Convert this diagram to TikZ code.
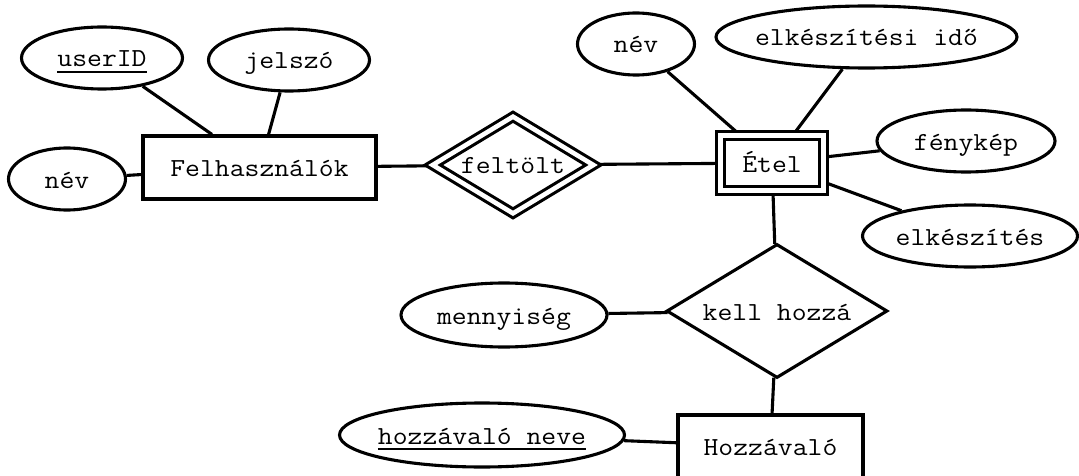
\documentclass[tikz,border=0pt]{standalone}
\usepackage{fontspec}
\newfontfamily\cour{Latin Modern Mono}[FakeStretch=1.11]
\usetikzlibrary{shapes.geometric,backgrounds}
\newcommand\keyul[1]{\setbox0\hbox{#1}\rlap{\copy0}\rule[-6.2pt]{\wd0}{2.5pt}}
\newcommand\ztxt[1]{\makebox[0pt][c]{#1}}
\begin{document}
\begin{tikzpicture}[x=1pt,y=-1pt,
  base/.style={draw=black, line width=3.1pt, inner sep=0pt, text height=18pt, text depth=0pt,
    font=\cour\fontsize{26}{30}\selectfont},
  entity/.style={base, rectangle},
  weak/.style={base, rectangle, double=white, double distance=4.6pt},
  attr/.style={base, ellipse},
  rel/.style={base, diamond, aspect=1.65},
  wrel/.style={base, diamond, aspect=1.65, double=white, double distance=4.6pt},
  conn/.style={draw=black, line width=3.1pt}
]
\useasboundingbox (0,0) rectangle (1079,476);

% entities
\node[entity, minimum width=233pt, minimum height=63pt] (F) at (259.5,167.5) {Felhasználók};
\node[weak, minimum width=102.5pt, minimum height=54.5pt] (E) at (772,163) {Étel};
\node[entity, minimum width=185pt, minimum height=63pt] (H) at (770.5,446.5) {Hozzávaló};

% relationships
\node[wrel, minimum width=162pt, minimum height=98pt] (R1) at (513,165) {\ztxt{feltölt}};
\node[rel, minimum width=221pt, minimum height=134pt] (R2) at (777,311) {\ztxt{kell hozzá}};

% attributes
\node[attr, minimum width=161pt, minimum height=62pt] (uid) at (102,58) {\ztxt{\keyul{userID}}};
\node[attr, minimum width=161pt, minimum height=62pt] (jel) at (289,60) {\ztxt{jelszó}};
\node[attr, minimum width=117pt, minimum height=62pt] (nev1) at (67,179) {\ztxt{név}};
\node[attr, minimum width=117pt, minimum height=62pt] (nev2) at (636,44) {\ztxt{név}};
\node[attr, minimum width=301pt, minimum height=62pt] (eido) at (866.5,37) {\ztxt{elkészítési idő}};
\node[attr, minimum width=178pt, minimum height=62pt] (feny) at (966,141) {\ztxt{fénykép}};
\node[attr, minimum width=215pt, minimum height=62pt] (elk) at (970,236) {\ztxt{elkészítés}};
\node[attr, minimum width=206pt, minimum height=64pt] (menny) at (504,315) {\ztxt{mennyiség}};
\node[attr, minimum width=285pt, minimum height=64pt] (hnev) at (482,435) {\ztxt{\keyul{hozzávaló neve}}};

% connectors (behind the nodes, so the white gap of double lines covers them)
\begin{scope}[on background layer]
\fill[white] (0,0) rectangle (1079,476);
\draw[conn] (uid) -- (F);
\draw[conn] (jel) -- (F);
\draw[conn] (nev1) -- (F);
\draw[conn] (F) -- (R1);
\draw[conn] (R1) -- (E);
\draw[conn] (nev2) -- (E);
\draw[conn] (eido) -- (E);
\draw[conn] (feny) -- (E);
\draw[conn] (elk) -- (E);
\draw[conn] (E) -- (R2);
\draw[conn] (menny) -- (R2);
\draw[conn] (R2) -- (H);
\draw[conn] (hnev) -- (H);
\end{scope}
\end{tikzpicture}
\end{document}
